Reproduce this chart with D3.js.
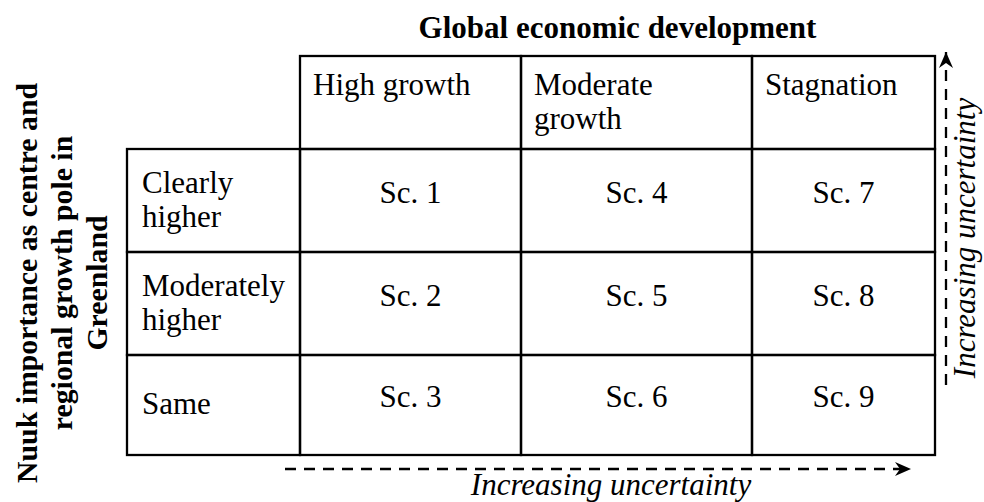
<!DOCTYPE html>
<meta charset="utf-8">
<style>
  body { margin: 0; background: #fff; }
  text { font-family: "Liberation Serif", serif; font-size: 31px; fill: #000; }
  .title { font-weight: bold; }
  .side { font-size: 29.8px; }
  .note { font-style: italic; }
  .cell { fill: none; stroke: #000; stroke-width: 2.3; }
  .dash { stroke: #000; stroke-width: 2.3; stroke-dasharray: 11,8; }
</style>

<div class="matrix"></div>

<script src="https://cdn.jsdelivr.net/npm/d3@7"></script>

<script>
    // chart content
    var colTitle = "Global economic development";
    var rowTitle = ["Nuuk importance as centre and", "regional growth pole in", "Greenland"];
    var colLabels = [["High growth"], ["Moderate", "growth"], ["Stagnation"]];
    var rowLabels = [["Clearly", "higher"], ["Moderately", "higher"], ["Same"]];
    var scenarios = [[1, 4, 7], [2, 5, 8], [3, 6, 9]];
    var arrowNote = "Increasing uncertainty";

    // layout
    var width = 984, height = 502;
    var colWidths = [173, 221, 231, 183],
        rowHeights = [93, 103, 103, 100];
    var tableX = 127, tableY = 56, lineH = 34;

    var xEdges = [tableX].concat(Array.from(d3.cumsum(colWidths), (d) => tableX + d));
    var yEdges = [tableY].concat(Array.from(d3.cumsum(rowHeights), (d) => tableY + d));

    // column 0 = row labels, row 0 = column headers
    var xScale = d3.scaleOrdinal().domain(d3.range(5)).range(xEdges);
    var yScale = d3.scaleOrdinal().domain(d3.range(5)).range(yEdges);
    var w = (i) => xScale(i + 1) - xScale(i);
    var h = (j) => yScale(j + 1) - yScale(j);

    var svg = d3.select('.matrix')
        .append("svg")
        .attr("width", width)
        .attr("height", height);

    var defs = svg.append("defs");
    defs.append("marker")
        .attr("id", "head")
        .attr("viewBox", "-17 -8 19 16")
        .attr("refX", 0)
        .attr("refY", 0)
        .attr("markerWidth", 19)
        .attr("markerHeight", 16)
        .attr("markerUnits", "userSpaceOnUse")
        .attr("orient", "auto")
        .append("path")
        .attr("d", "M0,0 L-16,-7 L-11,0 L-16,7 Z")
        .attr("fill", "#000");

    // cells
    var cells = [];
    d3.range(1, 4).forEach((c) => cells.push({ c: c, r: 0 }));
    d3.range(1, 4).forEach((r) => d3.range(0, 4).forEach((c) => cells.push({ c: c, r: r })));

    svg.selectAll('rect.cell')
        .data(cells)
        .enter().append('rect')
        .attr('class', 'cell')
        .attr('x', (d) => xScale(d.c))
        .attr('y', (d) => yScale(d.r))
        .attr('width', (d) => w(d.c))
        .attr('height', (d) => h(d.r));

    // column headers, top-left aligned
    svg.selectAll('text.col')
        .data(colLabels)
        .enter().append('text')
        .attr('class', 'col')
        .attr('y', yScale(0) + 39)
        .each(function (d, i) {
            d3.select(this).selectAll('tspan')
                .data(d)
                .enter().append('tspan')
                .attr('x', xScale(i + 1) + 13)
                .attr('dy', (t, k) => k ? lineH : 0)
                .text((t) => t);
        });

    // row labels, vertically centred
    svg.selectAll('text.row')
        .data(rowLabels)
        .enter().append('text')
        .attr('class', 'row')
        .attr('y', (d, i) => yScale(i + 1) + h(i + 1) / 2 + 9 - (d.length - 1) * lineH / 2)
        .selectAll('tspan')
        .data((d) => d)
        .enter().append('tspan')
        .attr('x', xScale(0) + 15)
        .attr('dy', (d, i) => i ? lineH : 0)
        .text((d) => d);

    // scenario cells
    var sc = [];
    scenarios.forEach((row, r) => row.forEach((n, c) => sc.push({ r: r + 1, c: c + 1, n: n })));
    svg.selectAll('text.sc')
        .data(sc)
        .enter().append('text')
        .attr('class', 'sc')
        .attr('text-anchor', 'middle')
        .attr('x', (d) => xScale(d.c) + w(d.c) / 2)
        .attr('y', (d) => yScale(d.r) + h(d.r) / 2 + 2)
        .text((d) => "Sc. " + d.n);

    // titles
    svg.append('text')
        .attr('class', 'title')
        .attr('text-anchor', 'middle')
        .attr('x', (xScale(1) + xScale(4)) / 2)
        .attr('y', 38)
        .text(colTitle);

    svg.append('g')
        .attr('transform', 'translate(0,283) rotate(-90)')
        .selectAll('text')
        .data(rowTitle)
        .enter().append('text')
        .attr('class', 'title side')
        .attr('text-anchor', 'middle')
        .attr('x', 0)
        .attr('y', (d, i) => 37 + i * 35)
        .text((d) => d);

    // uncertainty arrows
    var bottom = yScale(4), right = xScale(4);
    svg.append('line')
        .attr('class', 'dash')
        .attr('x1', 285).attr('y1', bottom + 14)
        .attr('x2', 911).attr('y2', bottom + 14)
        .attr('marker-end', 'url(#head)');

    svg.append('line')
        .attr('class', 'dash')
        .attr('x1', right + 11).attr('y1', 385)
        .attr('x2', right + 11).attr('y2', 52)
        .attr('marker-end', 'url(#head)');

    svg.append('text')
        .attr('class', 'note')
        .attr('text-anchor', 'middle')
        .attr('x', 611)
        .attr('y', 495)
        .text(arrowNote);

    svg.append('text')
        .attr('class', 'note')
        .attr('text-anchor', 'middle')
        .attr('transform', 'translate(975,238) rotate(-90)')
        .text(arrowNote);
</script>
